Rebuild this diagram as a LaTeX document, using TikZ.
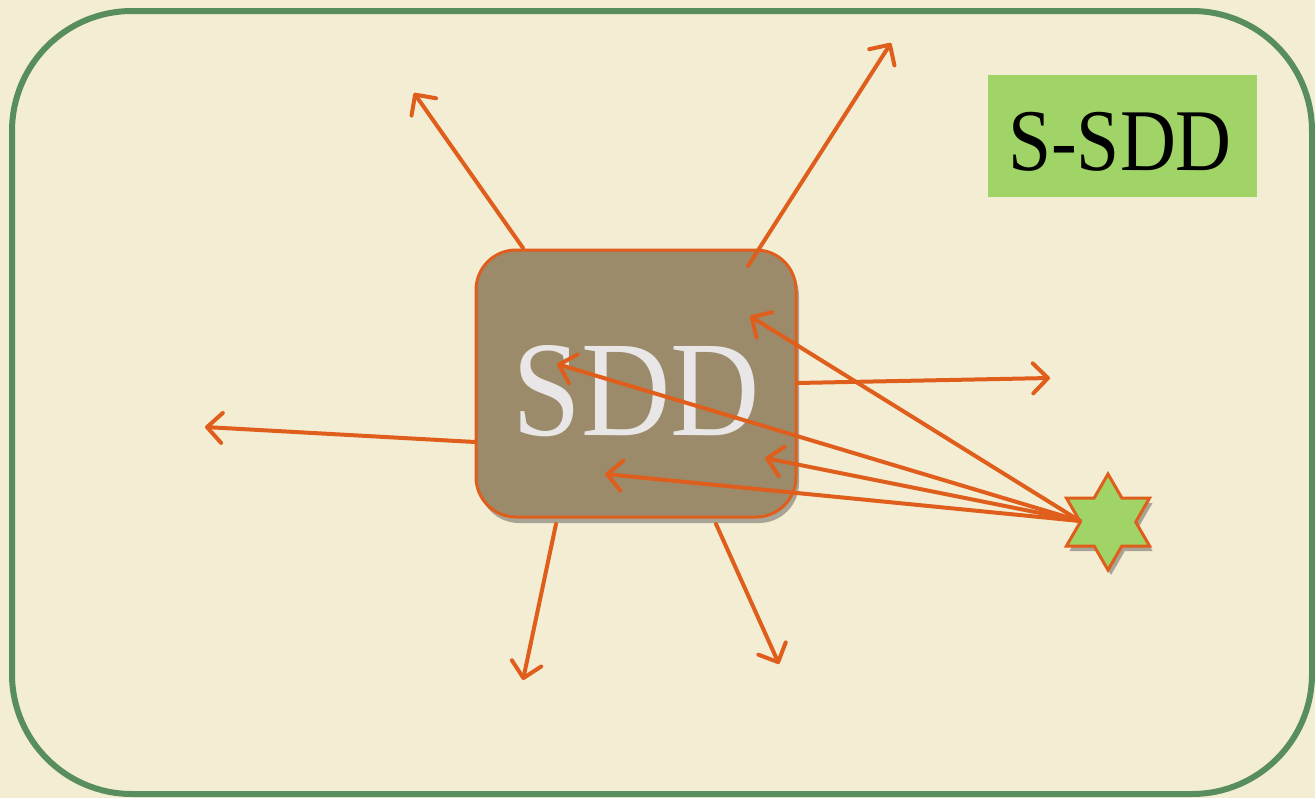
\documentclass[tikz,border=0pt]{standalone}
\usepackage{fontspec}
\setmainfont{Liberation Serif}
\usetikzlibrary{arrows.meta,shapes.geometric,shadows}
\definecolor{bgc}{RGB}{243,237,211}
\definecolor{framec}{RGB}{88,141,94}
\definecolor{orng}{RGB}{224,94,28}
\definecolor{boxc}{RGB}{156,139,106}
\definecolor{txtc}{RGB}{232,230,230}
\definecolor{grn}{RGB}{160,212,102}
\tikzset{
  conn/.style={draw=orng, line width=4pt, line cap=round, -{Straight Barb[length=15pt,width=30pt,line width=4pt,round]}},
  sddbox/.style={draw=orng, line width=3pt, fill=boxc, rounded corners=40pt, minimum width=320pt, minimum height=267pt,
    drop shadow={shadow xshift=3pt, shadow yshift=-6pt, opacity=0.45, fill=black!70}},
  labelbox/.style={fill=grn, minimum width=269pt, minimum height=122pt, inner sep=0pt},
  starnode/.style={star, star points=6, star point ratio=1.732, minimum size=96pt, inner sep=0pt, draw=orng, line width=3pt, fill=grn,
    drop shadow={shadow xshift=3pt, shadow yshift=-5pt, opacity=0.45, fill=black!70}}
}
\begin{document}
\begin{tikzpicture}[x=1pt,y=-1pt]
\useasboundingbox (0,0) rectangle (1315,798);
\fill[bgc] (0,0) rectangle (1315,798);
\draw[framec, line width=6pt, rounded corners=120pt] (12,11) rectangle (1312,794);

\node[sddbox] (sdd) at (636,383.5) {};
\node[anchor=base, text=txtc, inner sep=0pt] (sddt) at (636,435) {\fontsize{136}{136}\selectfont\scalebox{0.91}[1]{SDD}};

\node[labelbox] (ssdd) at (1122.5,136) {};
\node[anchor=base, inner sep=0pt] (ssddt) at (1120,170) {\fontsize{88}{88}\selectfont\scalebox{0.88}[1]{S-SDD}};

\node[starnode] (st) at (1108,522) {};

% start coordinates
\coordinate (s1) at (523,248);
\coordinate (s2) at (748,266);
\coordinate (s3) at (797,383);
\coordinate (s4) at (475,442);
\coordinate (s5) at (556,524);
\coordinate (s6) at (716,524);
\coordinate (sp) at (1080,521);
% end coordinates
\coordinate (e1) at (414,93);
\coordinate (e2) at (891,43);
\coordinate (e3) at (1050,378);
\coordinate (e4) at (205,427);
\coordinate (e5) at (523,680);
\coordinate (e6) at (779,664);
\coordinate (e7) at (750,316);
\coordinate (e8) at (557,364);
\coordinate (e9) at (765,458);
\coordinate (e10) at (605,474);

\draw[conn] (s1) -- (e1);
\draw[conn] (s2) -- (e2);
\draw[conn] (s3) -- (e3);
\draw[conn] (s4) -- (e4);
\draw[conn] (s5) -- (e5);
\draw[conn] (s6) -- (e6);
\draw[conn] (sp) -- (e7);
\draw[conn] (sp) -- (e8);
\draw[conn] (sp) -- (e9);
\draw[conn] (sp) -- (e10);
\end{tikzpicture}
\end{document}
